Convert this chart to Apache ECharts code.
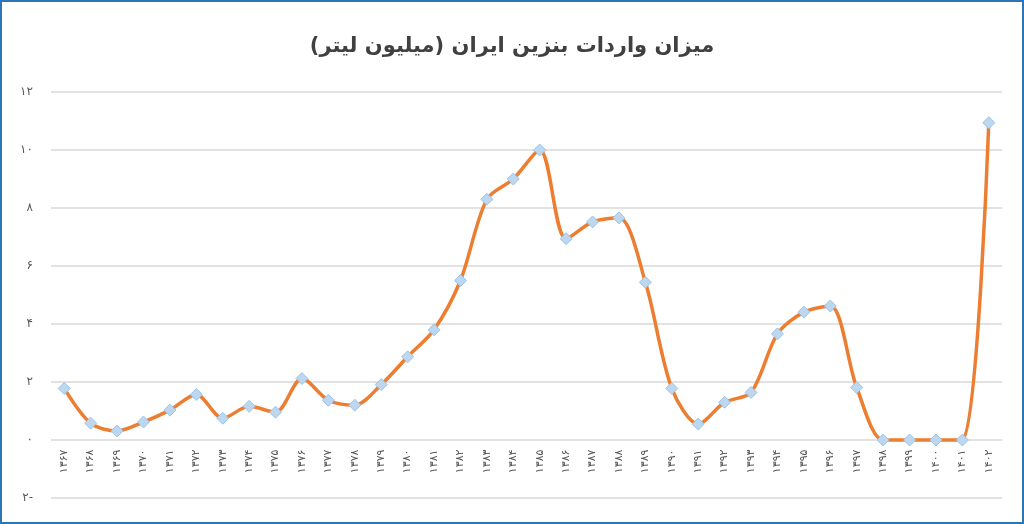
<!DOCTYPE html>
<html><head><meta charset="utf-8">
<script src="https://cdn.jsdelivr.net/npm/echarts@6/dist/echarts.min.js"></script>
<style>html,body{margin:0;padding:0;background:#fff}#c{width:1024px;height:524px;box-sizing:border-box;border:2px solid #2e75b6}</style>
</head><body><div id="c"></div>
<script>
const years = [1367,1368,1369,1370,1371,1372,1373,1374,1375,1376,1377,1378,1379,1380,1381,1382,1383,1384,1385,1386,1387,1388,1389,1390,1391,1392,1393,1394,1395,1396,1397,1398,1399,1400,1401,1402];
const values = [1.78,0.58,0.31,0.62,1.03,1.57,0.75,1.16,0.96,2.12,1.37,1.2,1.91,2.87,3.8,5.5,8.3,9.0,10.0,6.94,7.52,7.66,5.44,1.78,0.55,1.3,1.64,3.66,4.41,4.62,1.81,0,0,0,0,10.94];
const fa = s => String(s).replace(/\d/g, d => '۰۱۲۳۴۵۶۷۸۹'[d]);
const chart = echarts.init(document.getElementById('c'));
chart.setOption({
  animation:false,
  title:{text:'میزان واردات بنزین ایران (میلیون لیتر)',left:'center',top:29,textStyle:{fontFamily:'DejaVu Sans',fontSize:21,fontWeight:'bold',color:'#404040'}},
  grid:{left:49,right:20,top:90,bottom:24},
  xAxis:{type:'category',data:years,boundaryGap:true,offset:-58.5,
    axisLine:{show:false},axisTick:{show:false},
    axisLabel:{rotate:90,interval:0,color:'#595959',fontSize:11,fontFamily:'DejaVu Sans',margin:10,formatter:v=>fa(v)}},
  yAxis:{type:'value',min:-2,max:12,interval:2,
    axisLine:{show:false},axisTick:{show:false},
    splitLine:{lineStyle:{color:'#d9d9d9',width:1.5}},
    axisLabel:{color:'#595959',fontSize:12,fontFamily:'DejaVu Sans',margin:18,formatter:v=>v<0?fa(-v)+'-':fa(v)}},
  series:[{type:'line',data:values,smooth:0.3,symbol:'diamond',symbolSize:12,
    lineStyle:{color:'#ed7d31',width:3.5},
    itemStyle:{color:'#bdd7ee',borderColor:'#9dc3e6',borderWidth:1}}]
});
</script></body></html>
